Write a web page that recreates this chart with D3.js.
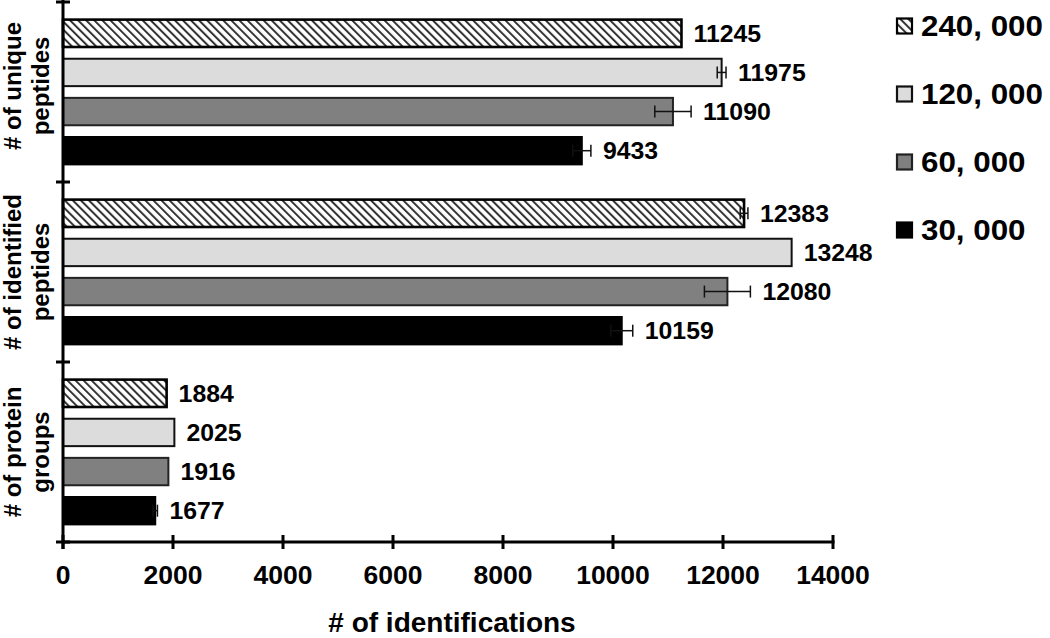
<!DOCTYPE html>
<html><head><meta charset="utf-8">
<script src="https://cdn.jsdelivr.net/npm/d3@7/dist/d3.min.js"></script>
<style>
html,body{margin:0;padding:0;background:#fff;}
text{font-family:Arial,"Liberation Sans",Helvetica,sans-serif;font-weight:bold;fill:#000;}
</style></head>
<body>
<svg id="chart" width="1050" height="638"></svg>
<script>
const categories = ["unique", "identified", "protein"];
const categoryLabels = [["# of unique", "peptides"], ["# of identified", "peptides"], ["# of protein", "groups"]];
const seriesNames = ["240, 000", "120, 000", "60, 000", "30, 000"];
const values240k = [11245, 12383, 1884];
const values120k = [11975, 13248, 2025];
const values60k  = [11090, 12080, 1916];
const values30k  = [9433, 10159, 1677];
const errors240k = [0, 70, 0];
const errors120k = [80, 0, 0];
const errors60k  = [330, 418, 0];
const errors30k  = [165, 200, 40];
const xTicks = [0, 2000, 4000, 6000, 8000, 10000, 12000, 14000];
const xTitle = "# of identifications";

const seriesValues = [values240k, values120k, values60k, values30k];
const seriesErrors = [errors240k, errors120k, errors60k, errors30k];

const svg = d3.select("#chart");
const defs = svg.append("defs");
const pat = defs.append("pattern").attr("id","hatch").attr("patternUnits","userSpaceOnUse")
  .attr("width",5.7).attr("height",5.7).attr("patternTransform","rotate(-45)");
pat.append("rect").attr("width",5.7).attr("height",5.7).attr("fill","#fff");
pat.append("rect").attr("x",0).attr("y",0).attr("width",2).attr("height",5.7).attr("fill","#333");

const fills = ["url(#hatch)", "#dcdcdc", "#808080", "#000"];
const strokes = ["#000", "#111", "#222", "#000"];

const x = d3.scaleLinear().domain([0,14000]).range([63,833]);
const y0 = d3.scaleBand().domain(categories).range([2,542]).padding(0);
const y1 = d3.scaleBand().domain(d3.range(4)).range([0,y0.bandwidth()]).paddingInner(0.3).paddingOuter(0.45);

const data = [];
categories.forEach((c,ci)=>{
  seriesNames.forEach((s,si)=>{
    data.push({cat:c, ci, si, v:seriesValues[si][ci], e:seriesErrors[si][ci]});
  });
});

const g = svg.append("g");
g.selectAll("rect.bar").data(data).join("rect").attr("class","bar")
  .attr("x", x(0)).attr("y", d=>y0(d.cat)+y1(d.si))
  .attr("width", d=>x(d.v)-x(0)).attr("height", y1.bandwidth())
  .attr("fill", d=>fills[d.si]).attr("stroke", d=>strokes[d.si])
  .attr("stroke-width", d=>d.si===0?2.6:2);

// error bars
const eb = g.selectAll("g.err").data(data.filter(d=>d.e>0)).join("g").attr("class","err");
eb.append("line").attr("x1",d=>x(d.v-d.e)).attr("x2",d=>x(d.v+d.e))
  .attr("y1",d=>y0(d.cat)+y1(d.si)+y1.bandwidth()/2).attr("y2",d=>y0(d.cat)+y1(d.si)+y1.bandwidth()/2)
  .attr("stroke","#111").attr("stroke-width",1.5);
[-1,1].forEach(sg=>{
  eb.append("line").attr("x1",d=>x(d.v+sg*d.e)).attr("x2",d=>x(d.v+sg*d.e))
    .attr("y1",d=>y0(d.cat)+y1(d.si)+y1.bandwidth()/2-6).attr("y2",d=>y0(d.cat)+y1(d.si)+y1.bandwidth()/2+6)
    .attr("stroke","#111").attr("stroke-width",1.5);
});

// value labels
g.selectAll("text.val").data(data).join("text").attr("class","val")
  .attr("transform", d=>`translate(${x(d.v+d.e)+12},${y0(d.cat)+y1(d.si)+y1.bandwidth()/2}) scale(1.08,1)`)
  .attr("dy","0.36em").attr("font-size",23).text(d=>d.v);

// x axis
const xAxis = svg.append("g").attr("transform","translate(0,542)");
xAxis.append("line").attr("x1",x(0)-1.5).attr("x2",x(14000)+1.5).attr("stroke","#000").attr("stroke-width",3);
xAxis.selectAll("line.tk").data(xTicks).join("line").attr("class","tk")
  .attr("x1",d=>x(d)).attr("x2",d=>x(d)).attr("y1",-7).attr("y2",7).attr("stroke","#000").attr("stroke-width",3);
xAxis.selectAll("text.tl").data(xTicks).join("text").attr("class","tl")
  .attr("x",d=>x(d)).attr("y",42).attr("text-anchor","middle").attr("font-size",26.5).text(d=>d);
svg.append("text").attr("x",452).attr("y",632).attr("text-anchor","middle").attr("font-size",28).text(xTitle);

// y axis
const yAxis = svg.append("g");
yAxis.append("line").attr("x1",x(0)).attr("x2",x(0)).attr("y1",0).attr("y2",549).attr("stroke","#000").attr("stroke-width",3);
const yTickPos = categories.map(c=>y0(c)).concat([y0.range()[1]]);
yAxis.selectAll("line.ytk").data(yTickPos).join("line").attr("class","ytk")
  .attr("x1",x(0)-7).attr("x2",x(0)+7).attr("y1",d=>d).attr("y2",d=>d).attr("stroke","#000").attr("stroke-width",3);
categories.forEach((c,i)=>{
  const cy = y0(c)+y0.bandwidth()/2 - (i===0?6:0);
  const t = yAxis.append("text").attr("transform",`translate(0,${cy}) rotate(-90)`).attr("text-anchor","middle").attr("font-size",24);
  t.append("tspan").attr("x",0).attr("y",21).text(categoryLabels[i][0]);
  t.append("tspan").attr("x",0).attr("y",49).text(categoryLabels[i][1]);
});

// legend
const leg = svg.append("g").attr("transform","translate(896,0)");
const legY = d3.scalePoint().domain(d3.range(4)).range([26,230]);
seriesNames.forEach((s,i)=>{
  leg.append("rect").attr("x",1).attr("y",legY(i)-7.5).attr("width",15).attr("height",15)
    .attr("fill",fills[i]).attr("stroke",strokes[i]).attr("stroke-width",2.2);
  leg.append("text").attr("transform",`translate(25,${legY(i)}) scale(1.08,1)`).attr("dy","0.36em").attr("font-size",29).text(s);
});
</script>
</body></html>
